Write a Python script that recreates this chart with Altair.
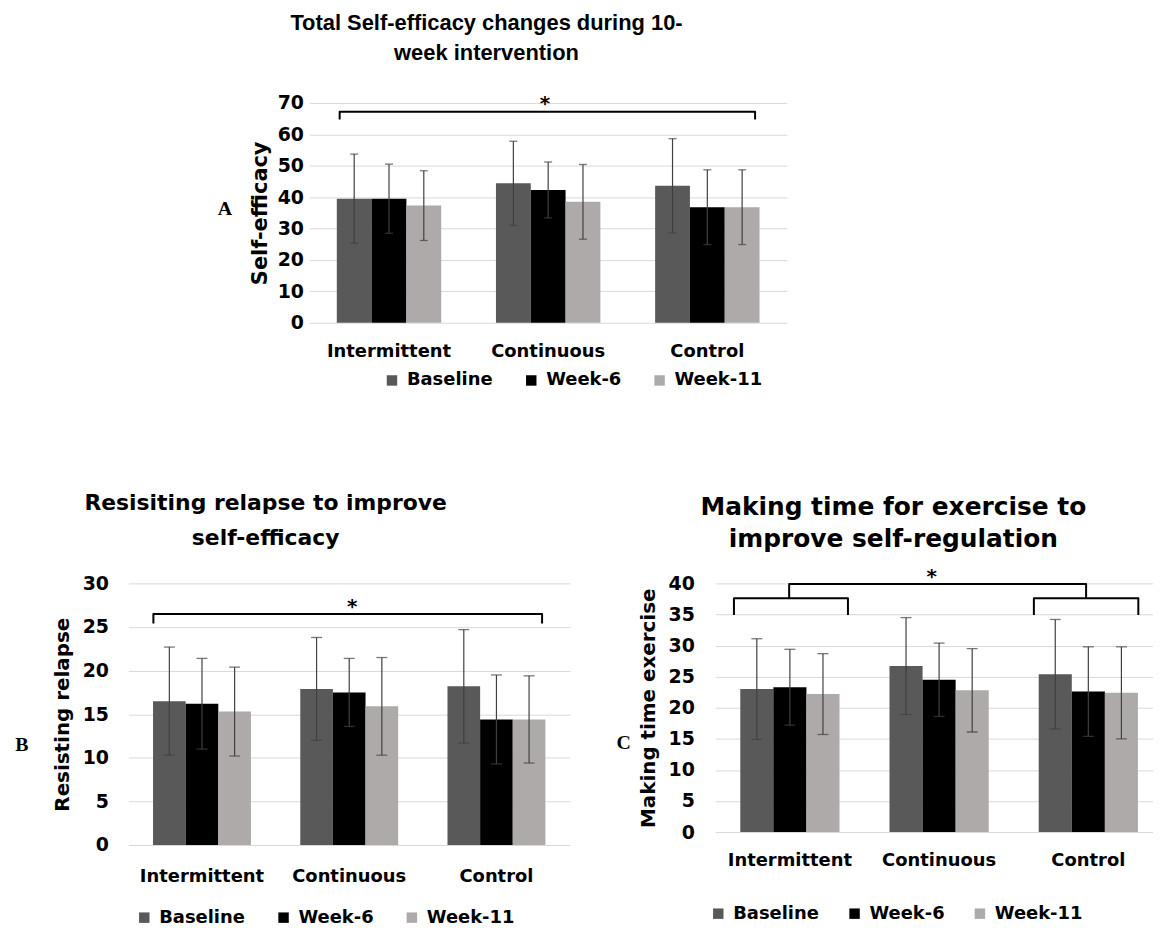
import altair as alt
import pandas as pd

groups = ["Intermittent", "Continuous", "Control"]
series = ["Baseline", "Week-6", "Week-11"]
colors = ["#595959", "#000000", "#AEAAAA"]

# Panel A - total self-efficacy (means and SD)
a_baseline = [39.5, 44.4, 43.6]
a_week6 = [39.5, 42.3, 36.8]
a_week11 = [37.3, 38.5, 36.8]
a_baseline_sd = [14.2, 13.4, 15.0]
a_week6_sd = [11.0, 8.9, 11.9]
a_week11_sd = [11.1, 11.9, 11.9]
a_ticks = [0, 10, 20, 30, 40, 50, 60, 70]

# Panel B - resisting relapse
b_baseline = [16.5, 17.9, 18.2]
b_week6 = [16.2, 17.5, 14.4]
b_week11 = [15.3, 15.9, 14.4]
b_baseline_sd = [6.2, 5.9, 6.5]
b_week6_sd = [5.2, 3.9, 5.1]
b_week11_sd = [5.1, 5.6, 5.0]
b_ticks = [0, 5, 10, 15, 20, 25, 30]

# Panel C - making time for exercise
c_baseline = [23.0, 26.7, 25.4]
c_week6 = [23.3, 24.5, 22.6]
c_week11 = [22.2, 22.8, 22.4]
c_baseline_sd = [8.1, 7.8, 8.8]
c_week6_sd = [6.1, 5.9, 7.2]
c_week11_sd = [6.5, 6.7, 7.4]
c_ticks = [0, 5, 10, 15, 20, 25, 30, 35, 40]

# significance brackets (x in group units: group i is centred at i + 0.5)
a_bracket_x = [0.19, 0.19, 2.80, 2.80]
a_bracket_y = [64.7, 67.2, 67.2, 64.7]
a_star = [1.48, 67.6]

b_bracket_x = [0.17, 0.17, 2.81, 2.81]
b_bracket_y = [25.4, 26.5, 26.5, 25.4]
b_star = [1.52, 26.6]

c_big_x = [0.495, 0.495, 2.485, 2.485]
c_big_y = [37.6, 39.9, 39.9, 37.6]
c_left_x = [0.125, 0.125, 0.889, 0.889]
c_right_x = [2.135, 2.135, 2.835, 2.835]
c_small_y = [34.9, 37.6, 37.6, 34.9]
c_star = [1.45, 40.0]


def bar_frame(base, w6, w11, sd_b, sd_6, sd_11):
    rows = []
    for s, vals, sds in zip(series, [base, w6, w11], [sd_b, sd_6, sd_11]):
        for g, v, sd in zip(groups, vals, sds):
            rows.append({"group": g, "series": s, "value": v,
                         "lo": v - sd, "hi": v + sd})
    return pd.DataFrame(rows)


def bracket_frame(parts):
    rows = []
    for k, (xs, ys) in enumerate(parts):
        for i, (x, y) in enumerate(zip(xs, ys)):
            rows.append({"b": k, "o": i, "bx": x, "by": y})
    return pd.DataFrame(rows)


def panel(df, brk, star, letter, width, height, ymax, yticks, ytitle,
          title, tfont, tsize, tline, tdx, toffset,
          xdom, pin, pout, align,
          ylab_size, ylab_pad, ytitle_size, ytitle_pad, xlab_pad,
          leg_x, leg_y, leg_cp, letter_x, letter_y, cap):
    yscale = alt.Scale(domain=[0, ymax], nice=False, zero=True)
    yaxis = alt.Axis(values=yticks, title=ytitle, grid=True, gridColor="#D9D9D9",
                     gridWidth=1, domain=False, ticks=False,
                     labelPadding=ylab_pad, labelFont="DejaVu Sans",
                     labelFontSize=ylab_size, labelFontWeight="bold",
                     labelColor="black", titleFont="DejaVu Sans",
                     titleFontSize=ytitle_size, titleFontWeight="bold",
                     titleColor="black", titlePadding=ytitle_pad)
    xaxis = alt.Axis(title=None, labelAngle=0, domain=False, ticks=False,
                     grid=False, labelPadding=xlab_pad, labelFont="DejaVu Sans",
                     labelFontSize=18, labelFontWeight="bold", labelColor="black")
    xscale = alt.Scale(domain=groups, paddingInner=pin, paddingOuter=pout, align=align)
    xenc = alt.X("group:N", sort=groups, scale=xscale, axis=xaxis)
    xoff = alt.XOffset("series:N", sort=series,
                       scale=alt.Scale(domain=series, paddingInner=0, paddingOuter=0))
    legend = alt.Legend(title=None, orient="none", legendX=leg_x, legendY=leg_y,
                        direction="horizontal", columns=3, symbolType="square",
                        symbolSize=110, symbolStrokeWidth=0,
                        labelFont="DejaVu Sans", labelFontSize=18,
                        labelFontWeight="bold", labelColor="black",
                        columnPadding=leg_cp, labelOffset=6)
    base = alt.Chart(df)
    bars = base.mark_bar().encode(
        x=xenc, xOffset=xoff,
        y=alt.Y("value:Q", scale=yscale, axis=yaxis),
        color=alt.Color("series:N", sort=series,
                        scale=alt.Scale(domain=series, range=colors), legend=legend),
    )
    ecol = "#404040"
    rules = base.mark_rule(color=ecol, strokeWidth=1.2).encode(
        x=xenc, xOffset=xoff,
        y=alt.Y("lo:Q", scale=yscale, axis=yaxis), y2="hi:Q")
    cap_hi = base.mark_tick(color=ecol, thickness=1.3, size=cap).encode(
        x=xenc, xOffset=xoff, y=alt.Y("hi:Q", scale=yscale, axis=yaxis))
    cap_lo = base.mark_tick(color=ecol, thickness=1.3, size=cap).encode(
        x=xenc, xOffset=xoff, y=alt.Y("lo:Q", scale=yscale, axis=yaxis))
    main = alt.layer(bars, rules, cap_hi, cap_lo)

    qx = alt.Scale(domain=xdom, nice=False, zero=False)
    brk_chart = alt.Chart(brk).mark_line(color="black", strokeWidth=2,
                                         strokeJoin="round").encode(
        x=alt.X("bx:Q", scale=qx, axis=None),
        y=alt.Y("by:Q", scale=yscale, axis=yaxis),
        order="o:Q", detail="b:N")
    star_df = pd.DataFrame({"sx": [star[0]], "sy": [star[1]], "t": ["*"]})
    star_chart = alt.Chart(star_df).mark_text(
        font="DejaVu Sans", fontSize=20, fontWeight="bold", color="black",
        baseline="alphabetic").encode(
        x=alt.X("sx:Q", scale=qx, axis=None),
        y=alt.Y("sy:Q", scale=yscale, axis=yaxis), text="t:N")
    ann = alt.layer(brk_chart, star_chart)

    letter_chart = alt.Chart(pd.DataFrame({"letter": [letter]})).mark_text(
        font="Liberation Serif", fontSize=20, fontWeight="bold", color="black",
        align="center", baseline="middle").encode(
        text="letter:N", x=alt.value(letter_x), y=alt.value(letter_y))

    return alt.layer(main, ann, letter_chart).resolve_scale(x="independent").properties(
        width=width, height=height,
        title=alt.TitleParams(text=title, font=tfont, fontSize=tsize, fontWeight="bold",
                              color="black", anchor="middle", frame="group",
                              dx=tdx, offset=toffset, lineHeight=tline),
    )


dfa = bar_frame(a_baseline, a_week6, a_week11, a_baseline_sd, a_week6_sd, a_week11_sd)
dfb = bar_frame(b_baseline, b_week6, b_week11, b_baseline_sd, b_week6_sd, b_week11_sd)
dfc = bar_frame(c_baseline, c_week6, c_week11, c_baseline_sd, c_week6_sd, c_week11_sd)

chart_a = panel(dfa, bracket_frame([(a_bracket_x, a_bracket_y)]), a_star, "A",
                480, 221, 70, a_ticks, "Self-efficacy",
                ["Total Self-efficacy changes during 10-", "week intervention"],
                "Liberation Sans", 22, 30, -62, 29,
                [0, 3], 0.344, 0.172, 0.5,
                19, 6, 21, 7, 20,
                74, 270, 29, -85, 107, 8)

chart_b = panel(dfb, bracket_frame([(b_bracket_x, b_bracket_y)]), b_star, "B",
                444, 263, 30, b_ticks, "Resisting relapse",
                ["Resisiting relapse to improve", "self-efficacy"],
                "DejaVu Sans", 22, 35, -84, 25,
                [0, 3], 0.335, 0.1675, 0.5,
                19, 20, 20, 10, 23,
                7, 327, 29, -107, 162, 11)

chart_c = panel(dfc, bracket_frame([(c_big_x, c_big_y), (c_left_x, c_small_y),
                                    (c_right_x, c_small_y)]), c_star, "C",
                440, 250, 40, c_ticks, "Making time exercise",
                ["Making time for exercise to", "improve self-regulation"],
                "DejaVu Sans", 25, 32, -41, 16,
                [0, 440 / 150], 0.335, 0.13417, 0.624,
                19, 21, 20, 10, 20,
                -6, 323, 26, -92, 160, 11)

spacer = alt.Chart(pd.DataFrame({"t": [""]})).mark_text().encode(
    text="t:N").properties(width=89, height=10)

row_a = alt.hconcat(spacer, chart_a, spacing=0).resolve_scale(
    color="independent", xOffset="independent").resolve_legend(color="independent")
row_bc = alt.hconcat(chart_b, chart_c, spacing=46).resolve_scale(
    color="independent", xOffset="independent").resolve_legend(color="independent")

chart = alt.vconcat(row_a, row_bc, spacing=103).resolve_scale(
    color="independent", xOffset="independent").resolve_legend(
    color="independent").properties(
    padding={"left": 7, "top": 2, "right": 0, "bottom": 0},
    background="white",
).configure_view(stroke=None)

chart.save("out.html", embed_options={"renderer": "svg", "actions": False})
